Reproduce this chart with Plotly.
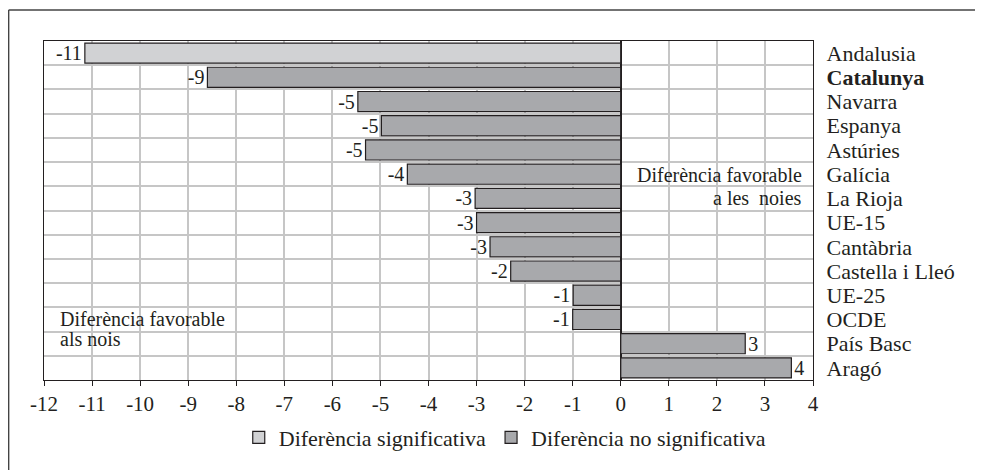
import plotly.graph_objects as go

# regions, top to bottom
regions = ["Andalusia", "Catalunya", "Navarra", "Espanya", "Astúries", "Galícia",
           "La Rioja", "UE-15", "Cantàbria", "Castella i Lleó", "UE-25", "OCDE",
           "País Basc", "Aragó"]
diff = [-11.15, -8.6, -5.47, -4.98, -5.31, -4.44, -3.03, -3.0, -2.72, -2.29,
        -0.99, -1.0, 2.59, 3.55]
significant = [True, False, False, False, False, False, False, False, False, False,
               False, False, False, False]
xticks = list(range(-12, 5))

FONT = "Liberation Serif"
LIGHT = "#d1d2d4"
DARK = "#a8a9ac"
EDGE = "#231f20"

fig = go.Figure()

for sig, name, col in [(True, "Diferència significativa", LIGHT),
                       (False, "Diferència no significativa", DARK)]:
    ys = [r for r, s in zip(regions, significant) if s == sig]
    xs = [v for v, s in zip(diff, significant) if s == sig]
    fig.add_trace(go.Bar(
        x=xs, y=ys, orientation="h", name=name,
        marker=dict(color=col, line=dict(color=EDGE, width=1.2)),
        text=[str(int(round(v))) for v in xs], textposition="outside",
        constraintext="none",
        textfont=dict(family=FONT, size=20, color="#231f20"),
        cliponaxis=False,
    ))

ticktext = ["<b>Catalunya</b>" if r == "Catalunya" else r for r in regions]

# page body has an 8px margin, so the figure is offset by 8px
fig.update_layout(
    width=975, height=462,
    margin=dict(l=36, r=170, t=33, b=90, autoexpand=False),
    paper_bgcolor="white", plot_bgcolor="white",
    font=dict(family=FONT, size=21, color="#231f20"),
    barmode="overlay", bargap=0.17,
    showlegend=True,
    legend=dict(orientation="h", xref="container", yref="container",
                x=0.51, xanchor="center", y=0.07, yanchor="middle",
                font=dict(family=FONT, size=22), itemwidth=30,
                traceorder="normal"),
    xaxis=dict(range=[-12, 4], tickvals=xticks, ticktext=[str(t) for t in xticks],
               showgrid=True, gridcolor="#c6c6c6", gridwidth=1.5,
               zeroline=True, zerolinecolor=EDGE, zerolinewidth=1.5,
               showline=True, linecolor=EDGE, linewidth=1.2, mirror=True,
               ticks="outside", ticklen=5, tickcolor=EDGE, automargin=False,
               tickfont=dict(family=FONT, size=21)),
    yaxis=dict(type="category", categoryorder="array", categoryarray=regions,
               autorange="reversed", side="right", tickson="boundaries",
               tickvals=regions, ticktext=ticktext,
               showgrid=True, gridcolor="#c6c6c6", gridwidth=1.5,
               showline=True, linecolor=EDGE, linewidth=1.2, mirror=True,
               ticks="", ticklabelstandoff=8, automargin=False,
               tickfont=dict(family=FONT, size=22)),
)

# notes inside the plot
note = dict(family=FONT, size=20, color="#231f20")
fig.add_annotation(text="Diferència favorable", xref="x", yref="y", x=3.82, y="Galícia",
                   xanchor="right", showarrow=False, font=note, yshift=-1)
fig.add_annotation(text="a les  noies", xref="x", yref="y", x=3.82, y="La Rioja",
                   xanchor="right", showarrow=False, font=note, yshift=0)
fig.add_annotation(text="Diferència favorable", xref="x", yref="y", x=-11.7, y="OCDE",
                   xanchor="left", showarrow=False, font=note, yshift=0)
fig.add_annotation(text="als nois", xref="x", yref="y", x=-11.7, y="OCDE",
                   xanchor="left", showarrow=False, font=note, yshift=-20)

# outer frame (top and left edges)
fig.add_shape(type="line", xref="paper", yref="paper", x0=-0.046, x1=1.23,
              y0=1.0914, y1=1.0914, line=dict(color="#444", width=1.5))
fig.add_shape(type="line", xref="paper", yref="paper", x0=-0.046, x1=-0.046,
              y0=1.0914, y1=-0.3, line=dict(color="#444", width=1.5))

fig.write_html("out.html")
